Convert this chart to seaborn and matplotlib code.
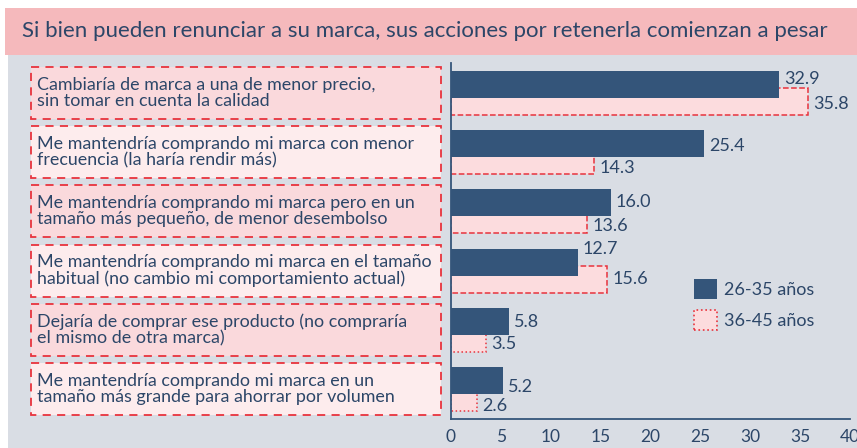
import pandas as pd
import matplotlib
matplotlib.use("Agg")
import matplotlib.pyplot as plt
import matplotlib.transforms as mtransforms
from matplotlib.patches import Rectangle, Patch
import seaborn as sns

# datos del grafico
titulo = "Si bien pueden renunciar a su marca, sus acciones por retenerla comienzan a pesar"
acciones = [
    "Cambiaría de marca a una de menor precio,\nsin tomar en cuenta la calidad",
    "Me mantendría comprando mi marca con menor\nfrecuencia (la haría rendir más)",
    "Me mantendría comprando mi marca pero en un\ntamaño más pequeño, de menor desembolso",
    "Me mantendría comprando mi marca en el tamaño\nhabitual (no cambio mi comportamiento actual)",
    "Dejaría de comprar ese producto (no compraría\nel mismo de otra marca)",
    "Me mantendría comprando mi marca en un\ntamaño más grande para ahorrar por volumen",
]
grupos = ["26-35 años", "36-45 años"]
valores_26_35 = [32.9, 25.4, 16.0, 12.7, 5.8, 5.2]
valores_36_45 = [35.8, 14.3, 13.6, 15.6, 3.5, 2.6]
ticks_x = [0, 5, 10, 15, 20, 25, 30, 35, 40]

# colores
NAVY = "#34557a"
TEXTO = "#2c4668"
ROSA = "#fcdcde"
ROJO = "#e8333d"
GRIS = "#d9dde4"
BANDA = "#f5b9bc"
CAJA_1 = "#fad9dc"
CAJA_2 = "#fdeced"

# desplazamiento vertical de las etiquetas de valor (px, + hacia abajo)
desp_oscuras = [-5, 3, -1, -13, 1, 6]
desp_claras = [3, 7, 6, 0, 5, 8]

sns.set_theme(style="white")
plt.rcParams["font.family"] = ["Lato", "DejaVu Sans"]

df = pd.DataFrame({
    "accion": acciones * 2,
    "grupo": [grupos[0]] * len(acciones) + [grupos[1]] * len(acciones),
    "valor": valores_26_35 + valores_36_45,
})

fig = plt.figure(figsize=(8.57, 4.48), dpi=100)
fig.patch.set_facecolor("white")
# fondo gris y banda del titulo
fig.patches.append(Rectangle((8 / 857, 0), 1, 1 - 55 / 448, transform=fig.transFigure,
                             facecolor=GRIS, edgecolor="none", zorder=-2))
fig.patches.append(Rectangle((5 / 857, 1 - 55 / 448), 1, 47 / 448, transform=fig.transFigure,
                             facecolor=BANDA, edgecolor="none", zorder=-2))
fig.text(22 / 857, 1 - 31 / 448, titulo, ha="left", va="center", fontsize=16, color=TEXTO)

ax = fig.add_axes([451 / 857, 1 - 419 / 448, 399 / 857, 356 / 448])
ax.set_facecolor("none")

sns.barplot(data=df, y="accion", x="valor", hue="grupo", orient="y",
            palette=[NAVY, ROSA], saturation=1, width=0.58, gap=-0.57,
            dodge=True, legend=False, ax=ax)

oscuras, claras = ax.containers[0], ax.containers[1]
for p in oscuras:
    p.set_zorder(3)
    p.set_edgecolor("none")
for i, p in enumerate(claras):
    p.set_zorder(2)
    p.set_edgecolor(ROJO)
    p.set_linewidth(1.1)
    p.set_linestyle("--" if i < 4 else ":")

et_osc = ax.bar_label(oscuras, labels=[f"{v:.1f}" for v in valores_26_35], padding=4,
                      fontsize=13, color=TEXTO)
et_cla = ax.bar_label(claras, labels=[f"{v:.1f}" for v in valores_36_45], padding=4,
                      fontsize=13, color=TEXTO)
for et, dy in zip(et_osc, desp_oscuras):
    et.xyann = (3.5, -dy * 0.72)
for et, dy in zip(et_cla, desp_claras):
    et.xyann = (4, -dy * 0.72)
for t in ax.texts:
    t.set_zorder(5)

ax.set_xlim(0, 40)
ax.set_xticks(ticks_x)
ax.set_xticklabels([str(t) for t in ticks_x], fontsize=12.5, color=TEXTO)
ax.set_yticks([i - 0.5 for i in range(len(acciones) + 1)])
ax.set_yticklabels([])
ax.set_ylim(len(acciones) - 0.5, -0.5)
ax.set_xlabel("")
ax.set_ylabel("")
for lado in ["top", "right"]:
    ax.spines[lado].set_visible(False)
for lado in ["left", "bottom"]:
    ax.spines[lado].set_color(NAVY)
    ax.spines[lado].set_linewidth(1.3)
ax.tick_params(axis="both", direction="out", length=5, width=1.3, color=NAVY, pad=2)

# cajas con las etiquetas
trans = mtransforms.blended_transform_factory(ax.transAxes, ax.transData)
x0 = (31 - 451) / 399
x1 = (441 - 451) / 399
for i, txt in enumerate(acciones):
    caja = Rectangle((x0, i - 0.44), x1 - x0, 0.88, transform=trans, clip_on=False,
                     facecolor=CAJA_1 if i % 2 == 0 else CAJA_2, edgecolor=ROJO,
                     linewidth=1.3, linestyle=(0, (4.5, 3.5)))
    ax.add_patch(caja)
    ax.text((37 - 451) / 399, i, txt, transform=trans, ha="left", va="center",
            fontsize=12.9, color=TEXTO, linespacing=1.0)

handles = [Patch(facecolor=NAVY, edgecolor="none"),
           Patch(facecolor=ROSA, edgecolor=ROJO, linestyle=":", linewidth=1.2)]
ax.legend(handles, grupos, loc="upper left", bbox_to_anchor=((694 - 451) / 399, (419 - 279) / 356),
          frameon=False, fontsize=13, handlelength=1.3, handleheight=1.3,
          labelspacing=0.65, handletextpad=0.35, borderpad=0, borderaxespad=0,
          labelcolor=TEXTO)

fig.savefig("out.png", dpi=100)
